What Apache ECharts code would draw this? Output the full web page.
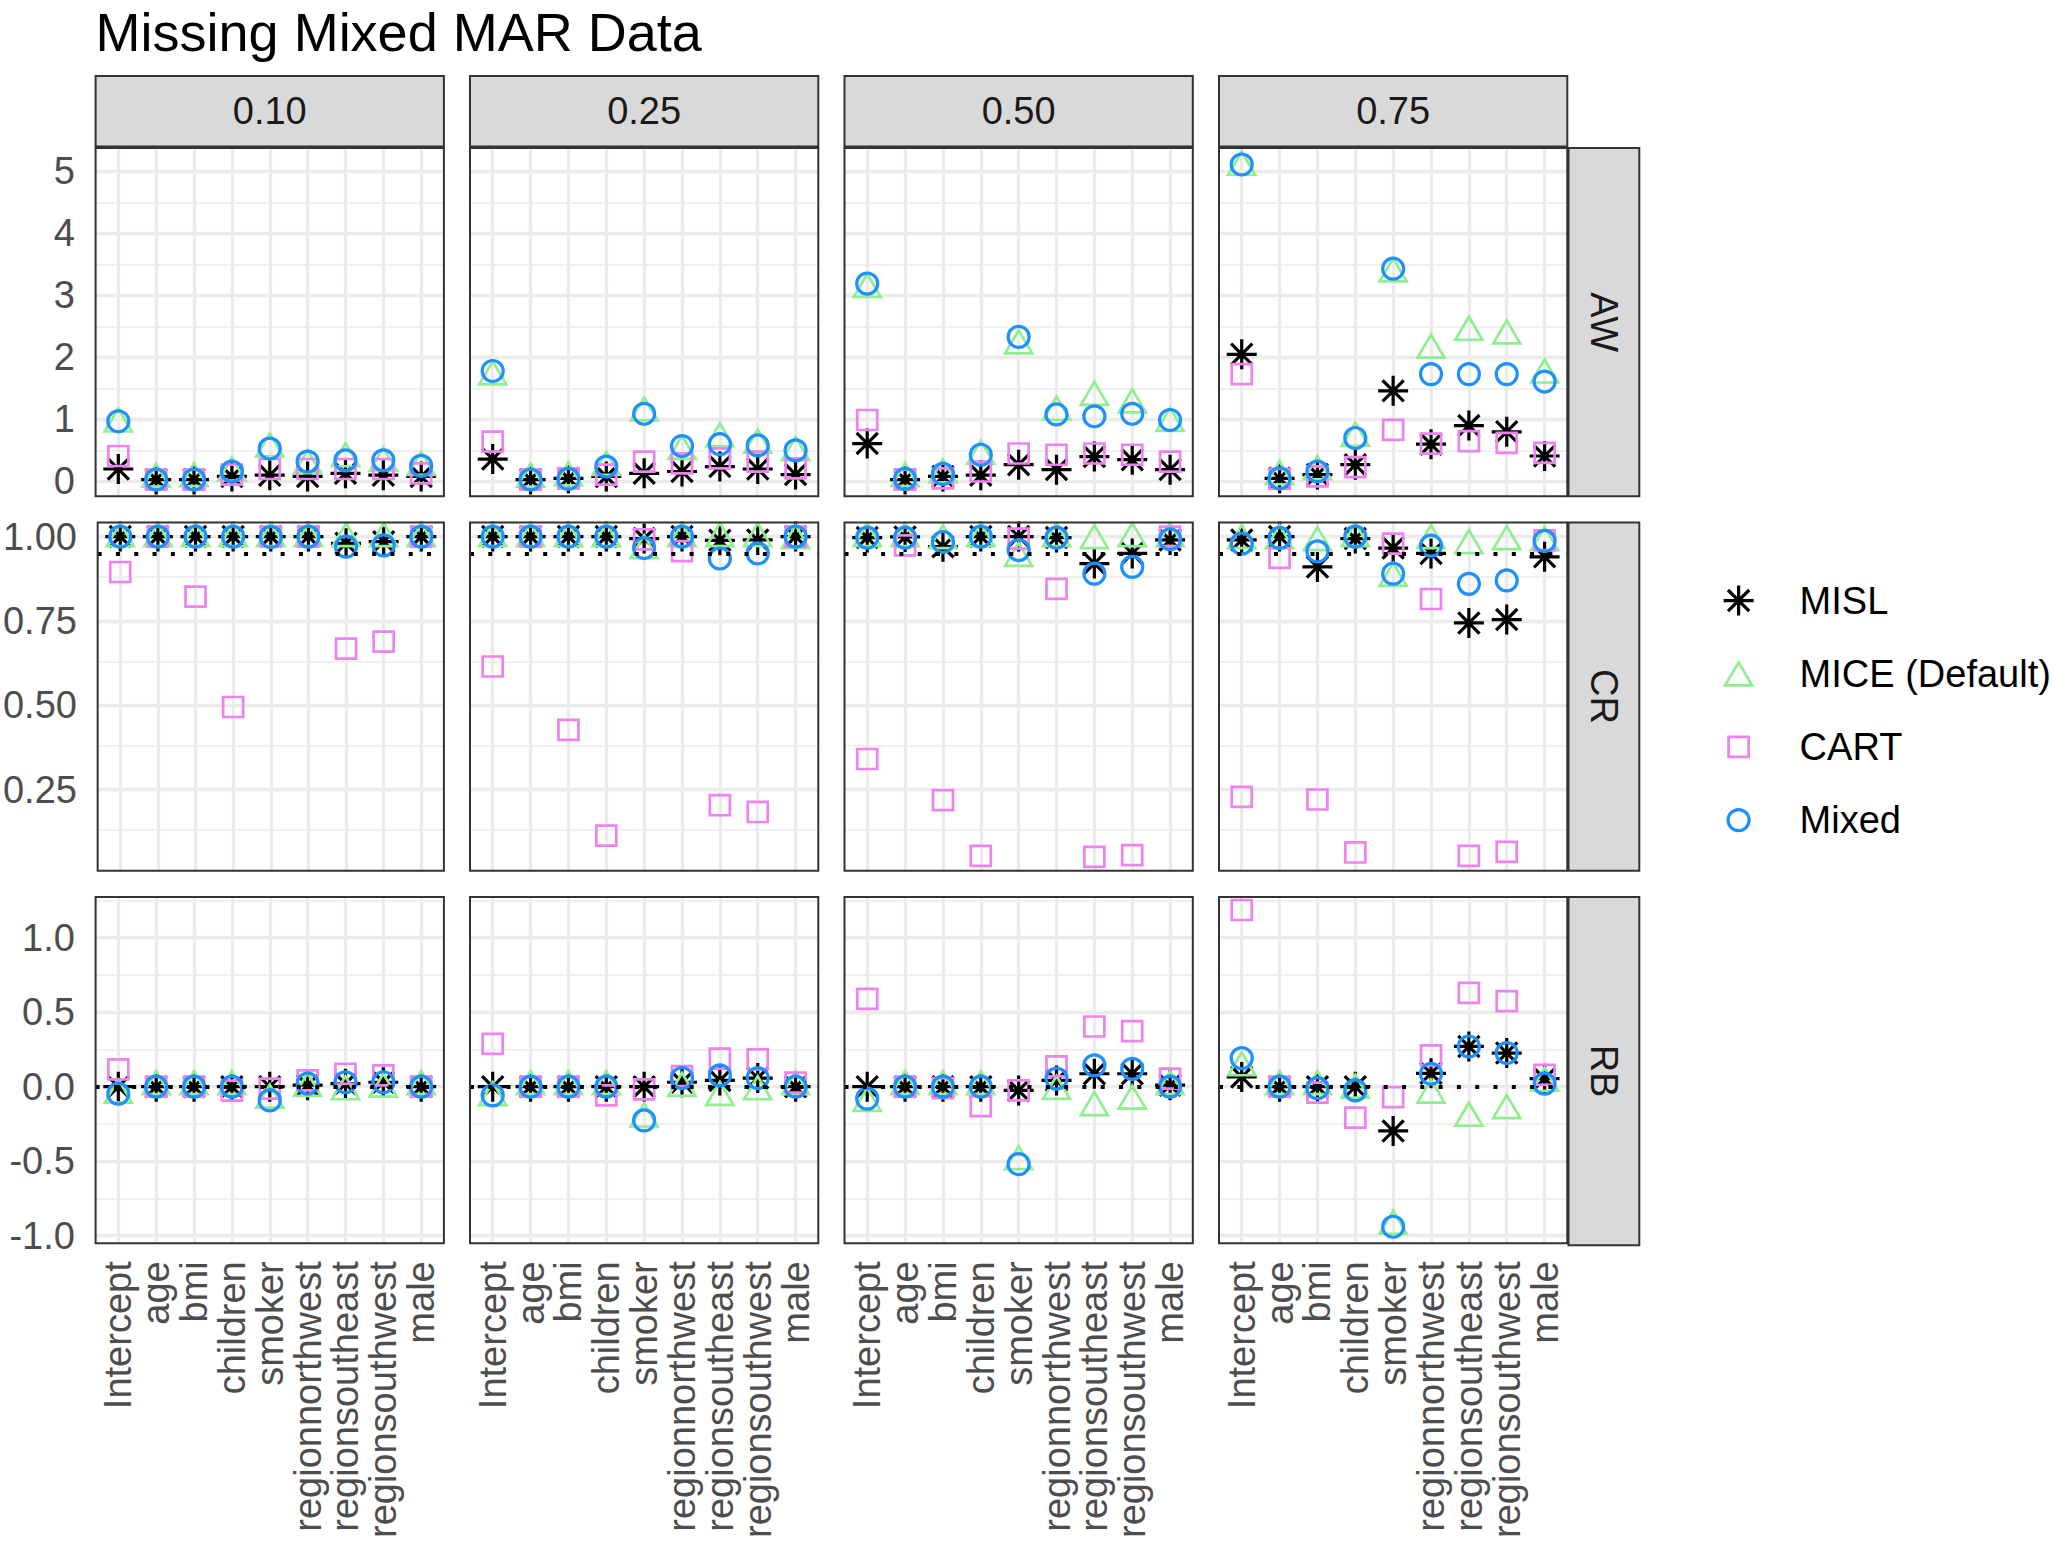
<!DOCTYPE html>
<html><head><meta charset="utf-8">
<script src="https://cdn.jsdelivr.net/npm/echarts@6/dist/echarts.min.js"></script>
<style>html,body{margin:0;padding:0;background:#fff}#c{width:2053px;height:1541px}</style>
</head><body><div id="c"></div>
<script>
// ---------- data ----------
const categories = ['Intercept','age','bmi','children','smoker','regionnorthwest','regionsoutheast','regionsouthwest','male'];
const rates = ['0.10','0.25','0.50','0.75'];
const metrics = ['AW','CR','RB'];
const methods = ['MISL','MICE (Default)','CART','Mixed'];

// Average width (one row per missing rate)
const awMISL = [
  [0.20,0.03,0.03,0.08,0.10,0.08,0.13,0.10,0.08],
  [0.36,0.03,0.05,0.08,0.13,0.16,0.24,0.20,0.11],
  [0.61,0.03,0.08,0.10,0.27,0.19,0.40,0.35,0.19],
  [2.05,0.05,0.11,0.27,1.46,0.60,0.90,0.80,0.41]];
const awMICE = [
  [0.99,0.10,0.11,0.20,0.59,0.32,0.43,0.36,0.29],
  [1.75,0.10,0.12,0.29,1.17,0.55,0.75,0.65,0.53],
  [3.16,0.11,0.17,0.47,2.25,1.18,1.42,1.30,1.00],
  [5.13,0.14,0.22,0.76,3.41,2.18,2.47,2.41,1.78]];
const awCART = [
  [0.41,0.03,0.03,0.11,0.20,0.20,0.20,0.20,0.13],
  [0.64,0.03,0.05,0.11,0.32,0.29,0.37,0.32,0.21],
  [0.99,0.03,0.05,0.16,0.45,0.43,0.45,0.43,0.32],
  [1.73,0.04,0.08,0.23,0.83,0.61,0.65,0.62,0.46]];
const awMixed = [
  [0.97,0.03,0.03,0.16,0.53,0.32,0.34,0.34,0.25],
  [1.78,0.03,0.04,0.24,1.09,0.57,0.60,0.58,0.50],
  [3.19,0.04,0.12,0.43,2.33,1.08,1.05,1.09,0.99],
  [5.11,0.05,0.16,0.70,3.43,1.73,1.73,1.73,1.61]];

// Coverage rate
const crMISL = [
  [1.000,1.000,1.000,1.000,1.000,1.000,0.980,0.985,1.000],
  [1.000,1.000,1.000,1.000,0.994,1.000,0.989,0.990,1.000],
  [0.997,0.999,0.970,1.000,1.000,0.997,0.920,0.950,0.990],
  [0.990,1.000,0.910,0.994,0.966,0.950,0.744,0.754,0.940]];
const crMICE = [
  [1.006,1.006,1.006,1.006,1.006,1.006,1.006,1.006,1.006],
  [1.006,1.006,1.006,1.006,0.970,1.006,1.006,1.006,1.000],
  [1.006,1.006,1.000,1.006,0.947,1.006,1.000,1.006,1.006],
  [1.000,1.000,0.994,1.006,0.888,1.000,0.985,0.997,0.994]];
const crCART = [
  [0.895,1.000,0.822,0.495,1.000,1.000,0.668,0.689,1.000],
  [0.615,1.000,0.427,0.114,0.992,0.957,0.204,0.184,1.000],
  [0.341,0.974,0.219,0.054,0.994,0.845,0.051,0.056,1.000],
  [0.229,0.937,0.221,0.064,0.979,0.815,0.054,0.066,0.989]];
const crMixed = [
  [1.000,1.000,1.000,1.000,0.999,1.000,0.970,0.974,1.000],
  [1.000,1.000,1.000,1.000,0.966,1.000,0.935,0.950,1.000],
  [0.997,0.997,0.984,1.000,0.960,0.997,0.890,0.910,0.992],
  [0.979,0.996,0.956,1.000,0.890,0.973,0.860,0.870,0.987]];

// Relative bias
const rbMISL = [
  [0.000,0.000,0.000,0.000,0.000,0.010,0.020,0.030,0.000],
  [0.000,0.000,0.000,0.000,0.000,0.030,0.042,0.058,0.000],
  [0.000,0.000,0.000,0.000,-0.025,0.042,0.087,0.087,0.010],
  [0.065,0.000,0.000,0.000,-0.297,0.090,0.270,0.226,0.054]];
const rbMICE = [
  [-0.030,0.027,0.027,0.027,-0.063,0.015,-0.007,0.010,0.027],
  [-0.047,0.027,0.027,0.027,-0.190,0.015,-0.045,-0.007,0.027],
  [-0.085,0.027,0.027,0.027,-0.476,-0.005,-0.114,-0.070,0.027],
  [0.154,0.027,0.027,0.004,-0.910,-0.030,-0.185,-0.134,0.050]];
const rbCART = [
  [0.116,0.000,0.000,-0.027,-0.013,0.042,0.087,0.076,0.000],
  [0.288,0.000,0.000,-0.058,-0.018,0.071,0.188,0.183,0.027],
  [0.590,0.000,-0.010,-0.130,-0.025,0.136,0.404,0.373,0.054],
  [1.186,0.000,-0.040,-0.208,-0.070,0.210,0.630,0.574,0.080]];
const rbMixed = [
  [-0.047,0.000,0.000,0.000,-0.092,0.020,0.030,0.030,0.000],
  [-0.058,0.000,0.000,0.000,-0.226,0.058,0.076,0.058,0.000],
  [-0.080,0.000,0.000,0.000,-0.520,0.054,0.143,0.120,0.000],
  [0.192,0.000,-0.010,-0.025,-0.940,0.087,0.270,0.226,0.020]];

// tick values / labels
const awTicks = [0,1,2,3,4,5];
const awTickLabels = ['0','1','2','3','4','5'];
const awMinor = [0.5,1.5,2.5,3.5,4.5];
const crTicks = [0.25,0.5,0.75,1.0];
const crTickLabels = ['0.25','0.50','0.75','1.00'];
const crMinor = [0.125,0.375,0.625,0.875];
const rbTicks = [-1,-0.5,0,0.5,1];
const rbTickLabels = ['-1.0','-0.5','0.0','0.5','1.0'];
const rbMinor = [-0.75,-0.25,0.25,0.75,1.25];
const crTarget = 0.95;
const rbTarget = 0;

// ---------- layout / style ----------
const FONT = "'Liberation Sans', Arial, Helvetica, sans-serif";
const FS = 38;
const PANEL_LEFT = [95.6, 470.0, 844.5, 1219.0];
const PANEL_TOP = [148.0, 522.4, 896.9];
const PW = 348.3, PH = 348.3;
const STRIP_TOP_Y = 75.9, STRIP_TOP_H = 70.7;
const STRIP_RIGHT_X = 1568.5, STRIP_RIGHT_W = 70.8;

const rowInfo = [
  {data:[awMISL,awMICE,awCART,awMixed], ticks:awTicks, labels:awTickLabels, minor:awMinor, range:[-0.24,5.376], target:null},
  {data:[crMISL,crMICE,crCART,crMixed], ticks:crTicks, labels:crTickLabels, minor:crMinor, range:[0.010,1.042], target:crTarget},
  {data:[rbMISL,rbMICE,rbCART,rbMixed], ticks:rbTicks, labels:rbTickLabels, minor:rbMinor, range:[-1.051,1.274], target:rbTarget}
];

const BOX = 'M-18,-18 M18,18 ';
const symbols = [
  'path://' + BOX + 'M-15,0 L15,0 M0,-15 L0,15 M-10.6,-10.6 L10.6,10.6 M-10.6,10.6 L10.6,-10.6',
  'path://' + BOX + 'M0,-11.5 L13.5,11.5 L-13.5,11.5 Z',
  'path://' + BOX + 'M-10,-10 L10,-10 L10,10 L-10,10 Z',
  'path://' + BOX + 'M10.5,0 A10.5,10.5 0 1 1 -10.5,0 A10.5,10.5 0 1 1 10.5,0 Z'
];
const colors = ['#000000','#90EE90','#EE82EE','#1E90FF'];
const strokeW = [3.2, 2.7, 2.7, 3.2];

const xIdx = categories.map((c,i)=>i);

const grids = [], xAxes = [], yAxes = [], series = [], graphics = [];

for (let r = 0; r < 3; r++) {
  const info = rowInfo[r];
  for (let c = 0; c < 4; c++) {
    const p = r*4 + c;
    grids.push({left:PANEL_LEFT[c], top:PANEL_TOP[r], width:PW, height:PH, show:true,
      backgroundColor:'transparent', borderColor:'#333333', borderWidth:2, z:10});
    xAxes.push({gridIndex:p, type:'value', min:-0.6, max:8.6,
      splitLine:{show:false}, axisLine:{show:false},
      axisTick:{show:r===2, length:11.5, customValues:xIdx, lineStyle:{color:'#333333', width:2}},
      axisLabel:{show:r===2, customValues:xIdx, rotate:90, margin:18,
        formatter:v=>categories[Math.round(v)], fontSize:FS, fontFamily:FONT, color:'#4D4D4D'}});
    yAxes.push({gridIndex:p, type:'value', min:info.range[0], max:info.range[1],
      splitLine:{show:false}, axisLine:{show:false},
      axisTick:{show:c===0, length:11.5, customValues:info.ticks, lineStyle:{color:'#333333', width:2}},
      axisLabel:{show:c===0, customValues:info.ticks, margin:20.7,
        formatter:v=>{const k=info.ticks.indexOf(v); return k>=0?info.labels[k]:String(v);},
        fontSize:FS, fontFamily:FONT, color:'#4D4D4D'}});
    // grid lines
    const gl = [];
    info.minor.forEach(v=>gl.push({yAxis:v, lineStyle:{color:'#EBEBEB', width:1.7, type:'solid'}}));
    info.ticks.forEach(v=>gl.push({yAxis:v, lineStyle:{color:'#EBEBEB', width:3.3, type:'solid'}}));
    xIdx.forEach(v=>gl.push({xAxis:v, lineStyle:{color:'#EBEBEB', width:3.3, type:'solid'}}));
    series.push({type:'scatter', xAxisIndex:p, yAxisIndex:p, data:[], silent:true, z:1,
      markLine:{silent:true, symbol:['none','none'], label:{show:false}, animation:false, z:1, data:gl}});
    // points
    for (let m = 0; m < 4; m++) {
      const vals = info.data[m][c];
      series.push({type:'scatter', name:methods[m], xAxisIndex:p, yAxisIndex:p,
        data: vals.map((v,i)=>[i, v]),
        symbol:symbols[m], symbolSize:36, symbolKeepAspect:true,
        itemStyle:{color:'rgba(0,0,0,0)', borderColor:colors[m], borderWidth:strokeW[m], opacity:1},
        emphasis:{disabled:true}, silent:true, z:3+m, animation:false});
    }
    if (info.target !== null) {
      series.push({type:'scatter', xAxisIndex:p, yAxisIndex:p, data:[], silent:true, z:8,
        markLine:{silent:true, symbol:['none','none'], label:{show:false}, animation:false, z:8,
          data:[{yAxis:info.target}],
          lineStyle:{color:'#000000', width:4, type:[4,14.3], cap:'butt'}}});
    }
  }
}

// strips
for (let c = 0; c < 4; c++) {
  graphics.push({type:'rect', shape:{x:PANEL_LEFT[c], y:STRIP_TOP_Y, width:PW, height:STRIP_TOP_H},
    style:{fill:'#D9D9D9', stroke:'#333333', lineWidth:2}, z:20});
  graphics.push({type:'text', x:PANEL_LEFT[c]+PW/2, y:STRIP_TOP_Y+STRIP_TOP_H/2,
    style:{text:rates[c], align:'center', verticalAlign:'middle', fontSize:FS, fontFamily:FONT, fill:'#1A1A1A'}, z:21});
}
for (let r = 0; r < 3; r++) {
  graphics.push({type:'rect', shape:{x:STRIP_RIGHT_X, y:PANEL_TOP[r], width:STRIP_RIGHT_W, height:PH},
    style:{fill:'#D9D9D9', stroke:'#333333', lineWidth:2}, z:20});
  graphics.push({type:'text', x:STRIP_RIGHT_X+STRIP_RIGHT_W/2, y:PANEL_TOP[r]+PH/2, rotation:-Math.PI/2,
    style:{text:metrics[r], align:'center', verticalAlign:'middle', fontSize:FS, fontFamily:FONT, fill:'#1A1A1A'}, z:21});
}
// title
graphics.push({type:'text', x:95.6, y:5,
  style:{text:'Missing Mixed MAR Data', align:'left', verticalAlign:'top', fontSize:54, fontFamily:FONT, fill:'#000000'}, z:21});

const chart = echarts.init(document.getElementById('c'), null, {renderer:'svg', width:2053, height:1541});
chart.setOption({
  animation:false,
  backgroundColor:'#ffffff',
  grid:grids, xAxis:xAxes, yAxis:yAxes, series:series,
  graphic:{elements:graphics},
  legend:{data:methods, orient:'vertical', left:1714, top:576, itemWidth:112, itemHeight:36, itemGap:34.3,
    symbolKeepAspect:true, selectedMode:false,
    itemStyle:{borderWidth:'inherit'},
    textStyle:{fontSize:FS, fontFamily:FONT, color:'#000000', lineHeight:37, width:240, overflow:'none'}}
});
</script></body></html>
